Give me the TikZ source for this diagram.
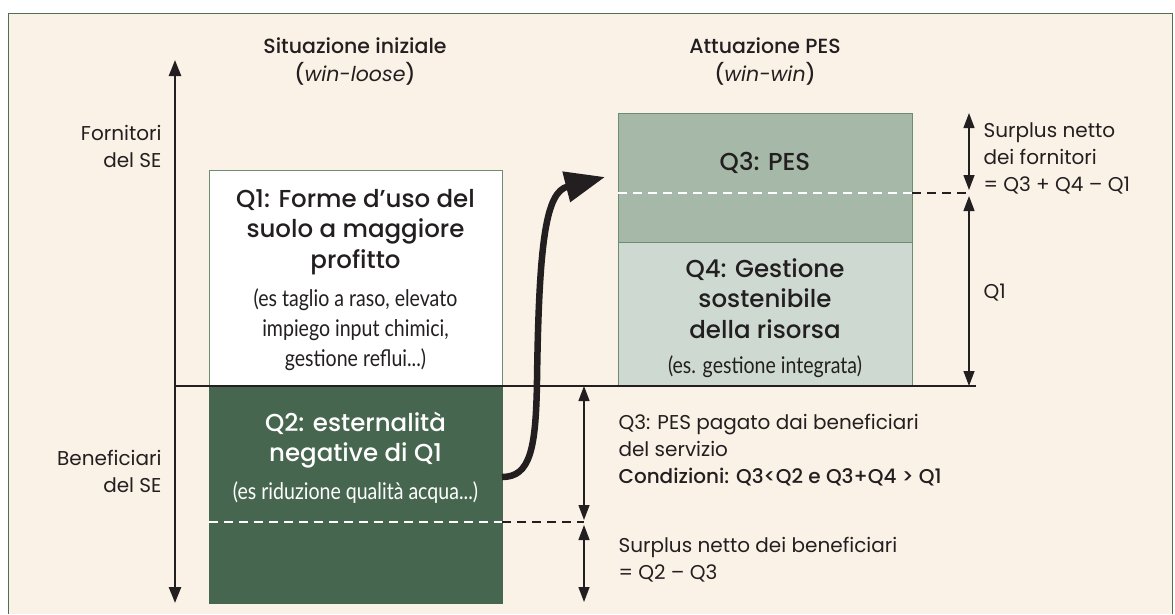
\documentclass[tikz,border=0pt]{standalone}
\usepackage{fontspec}
\setmainfont{Poppins}
\newfontfamily\medfont{Poppins Medium}
\newfontfamily\narrowfont[FakeStretch=0.85]{Lato}
\usepackage{xcolor}
\usepackage{tikz}
\usetikzlibrary{
    calc,
    arrows.meta,
    positioning
}
\definecolor{bgcream}{HTML}{FBF2E7}
\definecolor{framegreen}{HTML}{4E7055}
\definecolor{darkgreen}{HTML}{476650}
\definecolor{midgreen}{HTML}{A6B8A8}
\definecolor{palegreen}{HTML}{CEDAD1}
\definecolor{boxedge}{HTML}{6E8C72}
\definecolor{ink}{HTML}{231F20}
\tikzset{
    % boxes of the four quantities
    qbox/.style={
        draw=boxedge, line width=1pt, minimum width=293pt, inner sep=0pt
    },
    qtitle/.style={
        align=center, font=\medfont\fontsize{24.5}{30.5}\selectfont
    },
    qnote/.style={
        align=center, font=\narrowfont\fontsize{23}{30}\selectfont
    },
    sidetext/.style={
        text=ink, font=\fontsize{20}{27}\selectfont
    },
    headtext/.style={
        text=ink, align=center, font=\medfont\fontsize{20.5}{28}\selectfont
    },
    % double arrow for the size of a quantity
    dimarrow/.style={
        ink, line width=1.3pt,
        {Triangle[length=15pt,width=11pt]}-{Triangle[length=15pt,width=11pt]}
    },
    cutline/.style={
        line width=2.5pt, dash pattern=on 9pt off 6pt
    }
}
\begin{document}
\begin{tikzpicture}[x=1pt, y=-1pt]
    \useasboundingbox (0,0) rectangle (1175,614);
    \fill[bgcream] (8,13) rectangle (1172,614);
    \draw[framegreen, line width=1pt] (8,614) -- (8,13) -- (1172,13) -- (1172,614);

    % boxes
    \node[qbox, fill=white, minimum height=216pt] (q1) at (355.5,278) {};
    \node[qbox, fill=darkgreen, draw=darkgreen, minimum height=217pt] (q2) at (355.5,494.5) {};
    \node[qbox, fill=midgreen, minimum width=294pt, minimum height=129pt] (q3) at (765,177.5) {};
    \node[qbox, fill=palegreen, minimum width=294pt, minimum height=144pt] (q4) at (765,314) {};

    \coordinate (ytop) at (175,60);
    \coordinate (ybot) at (175,603);
    \coordinate (xleft) at (175,386);
    \coordinate (xright) at (976,386);
    \coordinate (cutA) at (618,193);
    \coordinate (cutB) at (912,193);
    \coordinate (cutC) at (969,193);
    \coordinate (cutD) at (209,522);
    \coordinate (cutE) at (502,522);
    \coordinate (cutF) at (584,522);
    \coordinate (bend) at (502,477);
    \coordinate (tip) at (605,177);

    \begin{scope}[ink]
        \draw[line width=2.5pt, {Triangle[length=16pt,width=12pt]}-{Triangle[length=16pt,width=12pt]}] (ytop) -- (ybot);
        \draw[line width=2.5pt] (xleft) -- (xright);
        \draw[cutline, white] (cutA) -- (cutB);
        \draw[cutline] (cutB) -- (cutC);
        \draw[cutline, white] (cutD) -- (cutE);
        \draw[cutline] (cutE) -- (cutF);
        \draw[line width=6.5pt, -{Triangle[length=40pt,width=30pt]}]
            (bend) .. controls (530,477) and (536,450) .. (537,380)
            .. controls (539,240) and (546,192) .. (tip);
    \end{scope}

    \draw[dimarrow] (969,113) -- (969,190);
    \draw[dimarrow] (969,196) -- (xright -| 969,0);
    \draw[dimarrow] (584,386) -- (584,520);
    \draw[dimarrow] (584,525) -- (584,602);

    % titles
    \node[headtext] (iniziale) at (355,62) {Situazione iniziale\\(\textit{\rmfamily win-loose})};
    \node[headtext] (attuazione) at (765,62) {Attuazione PES\\(\textit{\rmfamily win-win})};
    \node[sidetext, align=right, anchor=east] (fornitori) at (165,146) {Fornitori\\del SE};
    \node[sidetext, align=right, anchor=east] (beneficiari) at (165,471) {Beneficiari\\del SE};

    % texts in the boxes
    \node[qtitle, text=ink] (q1title) at (355.5,232) {Q1: Forme d’uso del\\suolo a maggiore\\profitto};
    \node[qnote, text=ink] (q1note) at (355.5,330) {(es taglio a raso, elevato\\impiego input chimici,\\gestione reflui...)};
    \node[qtitle, text=white] (q2title) at (355.5,440) {Q2: esternalità\\negative di Q1};
    \node[qnote, text=white] (q2note) at (355.5,493) {(es riduzione qualità acqua...)};
    \node[qtitle, text=ink] (q3title) at (765,163) {Q3: PES};
    \node[qtitle, text=ink] (q4title) at (765,298.5) {Q4: Gestione\\sostenibile\\della risorsa};
    \node[qnote, text=ink] (q4note) at (765,367) {(es. gestione integrata)};

    % texts on the right
    \node[sidetext, align=left, anchor=west] (surplusF) at (980,158.5) {Surplus netto\\dei fornitori\\= Q3 + Q4 – Q1};
    \node[sidetext, anchor=west] (q1size) at (980,293) {Q1};
    \node[sidetext, align=left, anchor=west] (pagato) at (615,450.5) {Q3: PES pagato dai beneficiari\\del servizio\\{\medfont Condizioni: Q3<Q2 e Q3+Q4 > Q1}};
    \node[sidetext, align=left, anchor=west] (surplusB) at (615,560) {Surplus netto dei beneficiari\\= Q2 – Q3};
\end{tikzpicture}
\end{document}
